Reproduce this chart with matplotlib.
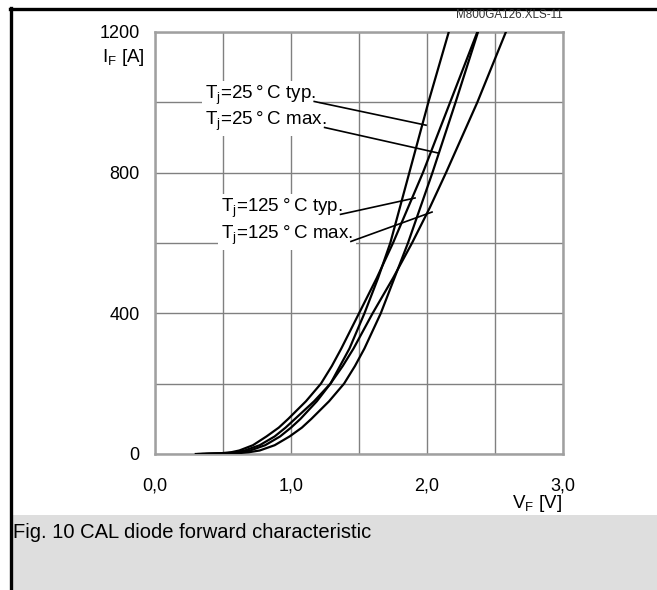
import numpy as np
import matplotlib
matplotlib.use("Agg")
import matplotlib.pyplot as plt
from matplotlib.lines import Line2D
from matplotlib.patches import Rectangle

plt.rcParams['font.family'] = ['Liberation Sans', 'DejaVu Sans']
plt.rcParams['mathtext.fontset'] = 'custom'
plt.rcParams['mathtext.rm'] = 'Liberation Sans'

# forward current points [A] and forward voltage read per curve [V]
I_F = [0, 2, 5, 10, 25, 50, 75, 100, 150, 200, 250, 300, 400, 500, 600, 700, 800, 1000, 1200]
V_25_typ = [0.35, 0.55, 0.63, 0.70, 0.81, 0.92, 1.00, 1.07, 1.19, 1.29, 1.36, 1.43, 1.54, 1.64, 1.73, 1.80, 1.87, 2.01, 2.16]
V_25_max = [0.38, 0.60, 0.69, 0.77, 0.88, 0.99, 1.08, 1.15, 1.28, 1.39, 1.47, 1.54, 1.66, 1.76, 1.86, 1.95, 2.04, 2.21, 2.375]
V_125_typ = [0.30, 0.48, 0.56, 0.62, 0.72, 0.82, 0.91, 0.98, 1.11, 1.22, 1.30, 1.37, 1.50, 1.63, 1.75, 1.86, 1.97, 2.17, 2.37]
V_125_max = [0.32, 0.52, 0.60, 0.66, 0.77, 0.88, 0.96, 1.03, 1.17, 1.29, 1.38, 1.46, 1.60, 1.75, 1.89, 2.02, 2.14, 2.37, 2.58]

x_ticks = [0.0, 1.0, 2.0, 3.0]
x_ticklabels = ['0,0', '1,0', '2,0', '3,0']
y_ticks = [0, 400, 800, 1200]

W, H = 657, 590
fig = plt.figure(figsize=(W / 100, H / 100), dpi=100)
fig.patch.set_facecolor('white')

# page frame and caption box
fig.add_artist(Rectangle((12 / W, 0), 1 - 12 / W, 75 / H, transform=fig.transFigure,
                         facecolor='#dedede', edgecolor='none', zorder=0))
fig.add_artist(Line2D([10 / W, 1], [1 - 9 / H, 1 - 9 / H], transform=fig.transFigure,
                      color='black', lw=2.4))
fig.add_artist(Line2D([10.5 / W, 10.5 / W], [0, 1 - 8 / H], transform=fig.transFigure,
                      color='black', lw=2.4))

ax = fig.add_axes([155 / W, 1 - 454 / H, 408 / W, 422 / H])
ax.set_xlim(0, 3)
ax.set_ylim(0, 1200)
ax.set_xticks(np.arange(0, 3.01, 0.5), minor=True)
ax.set_yticks(np.arange(0, 1201, 200), minor=True)
ax.set_xticks(x_ticks)
ax.set_xticklabels(x_ticklabels)
ax.set_yticks(y_ticks)
ax.grid(which='both', color='#808080', lw=1.0)
ax.set_axisbelow(True)
ax.tick_params(which='both', length=0, labelsize=13)
ax.tick_params(axis='x', pad=17)
ax.tick_params(axis='y', pad=11)
for s in ax.spines.values():
    s.set_color('#a0a0a0')
    s.set_linewidth(1.8)

for v in [V_25_typ, V_25_max, V_125_typ, V_125_max]:
    ax.plot(v, I_F, color='black', lw=1.6, zorder=3, solid_joinstyle='round')

# labels with leader lines
labels = [
    ('T$_\\mathregular{j}$=25\u2009°\u2009C typ.', (0.368, 1009), (1.993, 935)),
    ('T$_\\mathregular{j}$=25\u2009°\u2009C max.', (0.368, 935), (2.081, 856)),
    ('T$_\\mathregular{j}$=125\u2009°\u2009C typ.', (0.485, 688), (1.912, 728)),
    ('T$_\\mathregular{j}$=125\u2009°\u2009C max.', (0.485, 611), (2.037, 688)),
]
for txt, pos, tip in labels:
    t = ax.text(pos[0], pos[1], txt, fontsize=13.5, ha='left', va='baseline', zorder=4,
                bbox=dict(facecolor='white', edgecolor='none', pad=2))
    fig.canvas.draw()
    bb = t.get_window_extent()
    x0, y0 = ax.transData.inverted().transform((bb.x1 - 2, bb.y0 + 6))
    ax.plot([x0, tip[0]], [y0, tip[1]], color='black', lw=1.2, zorder=5)

fig.text(145 / W, 1 - 57 / H, 'I$_\\mathregular{F}$ [A]', fontsize=13.5, ha='right', va='center')
fig.text(562 / W, 1 - 503 / H, 'V$_\\mathregular{F}$ [V]', fontsize=13.5, ha='right', va='center')
fig.text(563 / W, 1 - 15 / H, 'M800GA126.XLS-11', fontsize=8.4, ha='right', va='center', color='#333333')
fig.text(13 / W, 1 - 532 / H, 'Fig. 10 CAL diode forward characteristic', fontsize=14.5,
         ha='left', va='center')

fig.savefig('out.png', dpi=100)
